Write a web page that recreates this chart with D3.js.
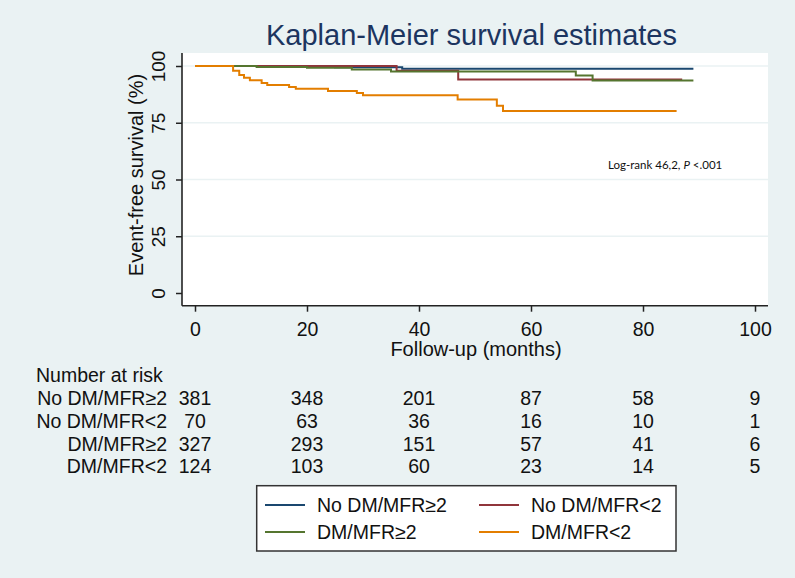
<!DOCTYPE html>
<html>
<head>
<meta charset="utf-8">
<script src="https://cdn.jsdelivr.net/npm/d3@7"></script>
<style>
  html, body { margin: 0; padding: 0; background: #EAF2F3; }
  svg { display: block; }
  text { font-family: Arial, "Liberation Sans", sans-serif; fill: #111; }
</style>
</head>
<body>
<svg id="chart" width="795" height="578"></svg>
<script>
// ---- Data ----
const groups = ["No DM/MFR≥2", "No DM/MFR<2", "DM/MFR≥2", "DM/MFR<2"];
const colors = ["#1a476f", "#90353b", "#55752f", "#e37e00"];

const timesNoDMHigh = [0, 12, 25, 37, 89];
const survNoDMHigh  = [100, 99.8, 99.5, 98.8, 98.8];

const timesNoDMLow = [0, 36, 47, 87];
const survNoDMLow  = [100, 97.9, 94.0, 94.0];

const timesDMHigh = [0, 11, 20, 28, 35, 68, 71, 89];
const survDMHigh  = [100, 99.6, 99.2, 98.5, 97.6, 95.8, 93.6, 93.6];

const timesDMLow = [0, 6.8, 7.9, 8.75, 9.8, 11.9, 12.9, 16.8, 18, 23.75, 28.9, 30, 46.9, 53.9, 55, 86];
const survDMLow  = [100, 97.9, 96.0, 94.8, 93.7, 92.5, 91.6, 90.7, 90.0, 89.0, 88.1, 87.1, 85.2, 82.5, 80.2, 80.2];

const xTicks = [0, 20, 40, 60, 80, 100];
const yTicks = [0, 25, 50, 75, 100];
const yGrid = [25, 50, 75, 100];

const riskNoDMHigh = [381, 348, 201, 87, 58, 9];
const riskNoDMLow  = [70, 63, 36, 16, 10, 1];
const riskDMHigh   = [327, 293, 151, 57, 41, 6];
const riskDMLow    = [124, 103, 60, 23, 14, 5];

const titleText = "Kaplan-Meier survival estimates";
const xTitle = "Follow-up (months)";
const yTitle = "Event-free survival (%)";

// ---- Build ----
const series = [
  { name: groups[0], color: colors[0], t: timesNoDMHigh, s: survNoDMHigh, risk: riskNoDMHigh },
  { name: groups[1], color: colors[1], t: timesNoDMLow,  s: survNoDMLow,  risk: riskNoDMLow },
  { name: groups[2], color: colors[2], t: timesDMHigh,   s: survDMHigh,   risk: riskDMHigh },
  { name: groups[3], color: colors[3], t: timesDMLow,    s: survDMLow,    risk: riskDMLow }
];

const svg = d3.select("#chart");
const plot = { left: 182, right: 768, top: 53, bottom: 305.7 };

const x = d3.scaleLinear().domain([0, 100]).range([195, 755]);
const y = d3.scaleLinear().domain([0, 100]).range([293, 66]);

// background
svg.append("rect").attr("width", 795).attr("height", 578).attr("fill", "#EAF2F3");
svg.append("rect")
  .attr("x", plot.left).attr("y", plot.top)
  .attr("width", plot.right - plot.left).attr("height", plot.bottom - plot.top)
  .attr("fill", "#ffffff");

// grid
svg.append("g").selectAll("line").data(yGrid).join("line")
  .attr("x1", plot.left).attr("x2", plot.right)
  .attr("y1", d => y(d)).attr("y2", d => y(d))
  .attr("stroke", "#EAF2F3").attr("stroke-width", 1.5);

// title
svg.append("text")
  .attr("x", 471.5).attr("y", 45)
  .attr("text-anchor", "middle")
  .style("font-size", "29px")
  .style("fill", "#1c3560")
  .text(titleText);

// x axis
const xAxis = d3.axisBottom(x).tickValues(xTicks).tickSize(6).tickPadding(8).tickSizeOuter(0);
const gx = svg.append("g").attr("transform", `translate(0,${plot.bottom})`).call(xAxis);
gx.select(".domain").remove();
gx.selectAll(".tick line").attr("stroke", "#222").attr("stroke-width", 1.5);
gx.selectAll(".tick text").attr("y", null).attr("dy", null)
  .attr("transform", "translate(0,30)")
  .style("font-size", "19.5px").style("font-family", "Arial, 'Liberation Sans', sans-serif").attr("fill", "#111");
svg.append("line")
  .attr("x1", plot.left).attr("x2", plot.right)
  .attr("y1", plot.bottom).attr("y2", plot.bottom)
  .attr("stroke", "#222").attr("stroke-width", 1.6);

// y axis
const yAxis = d3.axisLeft(y).tickValues(yTicks).tickSize(6).tickSizeOuter(0);
const gy = svg.append("g").attr("transform", `translate(${plot.left},0)`).call(yAxis);
gy.select(".domain").remove();
gy.selectAll(".tick line").attr("stroke", "#222").attr("stroke-width", 1.5);
gy.selectAll(".tick text")
  .attr("x", null).attr("dy", null).attr("y", null)
  .attr("text-anchor", "middle")
  .attr("transform", "translate(-17,0) rotate(-90)")
  .style("font-size", "19px").style("font-family", "Arial, 'Liberation Sans', sans-serif").attr("fill", "#111");
svg.append("line")
  .attr("x1", plot.left).attr("x2", plot.left)
  .attr("y1", plot.top).attr("y2", plot.bottom)
  .attr("stroke", "#222").attr("stroke-width", 1.6);

// axis titles
svg.append("text")
  .attr("x", 476).attr("y", 356)
  .attr("text-anchor", "middle")
  .style("font-size", "20px")
  .text(xTitle);
svg.append("text")
  .attr("transform", "translate(143,175) rotate(-90)")
  .attr("text-anchor", "middle")
  .style("font-size", "20px")
  .text(yTitle);

// curves
const line = d3.line()
  .x(d => x(d[0])).y(d => y(d[1]))
  .curve(d3.curveStepAfter);
svg.append("g").selectAll("path").data(series).join("path")
  .attr("d", d => line(d.t.map((t, i) => [t, d.s[i]])))
  .attr("fill", "none")
  .attr("stroke", d => d.color)
  .attr("stroke-width", 2);

// log-rank annotation
const lr = svg.append("text")
  .attr("x", 608).attr("y", 169)
  .style("font-family", "Lato, 'Open Sans', sans-serif")
  .style("font-size", "11.5px")
  .attr("fill", "#222");
lr.append("tspan").text("Log-rank 46,2, ");
lr.append("tspan").style("font-style", "italic").text("P");
lr.append("tspan").text(" <.001");

// number at risk table
svg.append("text")
  .attr("x", 36).attr("y", 382)
  .style("font-size", "19.5px")
  .text("Number at risk");
const rowY = [405, 428, 451, 473];
const rows = svg.append("g").selectAll("g").data(series).join("g")
  .attr("transform", (d, i) => `translate(0,${rowY[i]})`);
rows.append("text")
  .attr("x", 167).attr("text-anchor", "end")
  .style("font-size", "19.5px")
  .text(d => d.name);
rows.selectAll("text.n").data(d => d.risk).join("text")
  .attr("class", "n")
  .attr("x", (d, i) => x(xTicks[i]))
  .attr("text-anchor", "middle")
  .style("font-size", "19.5px")
  .text(d => d);

// legend
svg.append("rect")
  .attr("x", 256.7).attr("y", 485.7).attr("width", 419.3).attr("height", 65.3)
  .attr("fill", "#ffffff").attr("stroke", "#333").attr("stroke-width", 1.5);
const legPos = [[265, 505], [479, 505], [265, 532], [479, 532]];
const leg = svg.append("g").selectAll("g").data(series).join("g")
  .attr("transform", (d, i) => `translate(${legPos[i][0]},${legPos[i][1]})`);
leg.append("line")
  .attr("x1", 0).attr("x2", 40).attr("y1", 0).attr("y2", 0)
  .attr("stroke", d => d.color).attr("stroke-width", 2);
leg.append("text")
  .attr("x", 52).attr("y", 7)
  .style("font-size", "19.5px")
  .text(d => d.name);
</script>
</body>
</html>
